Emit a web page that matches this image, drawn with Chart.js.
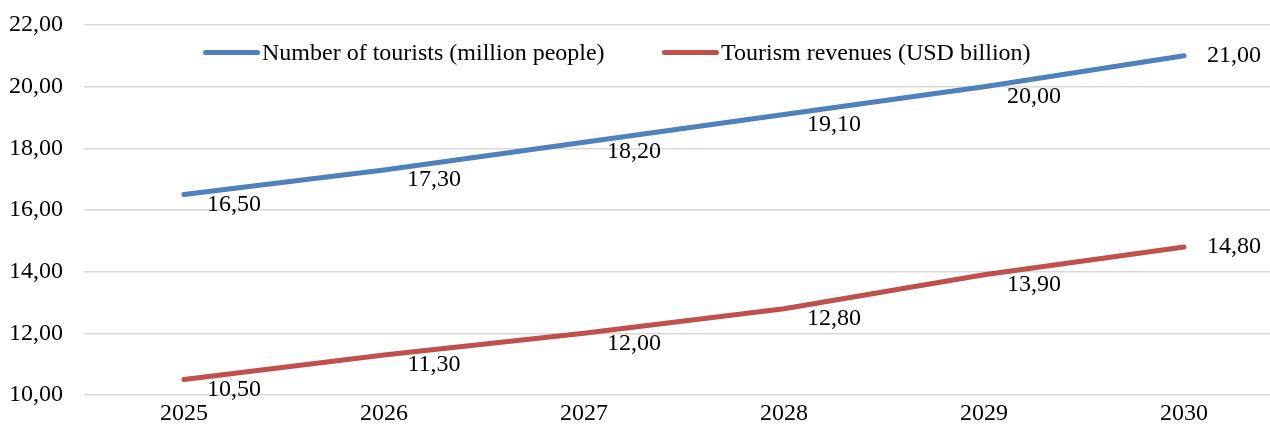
<!DOCTYPE html>
<html>
<head>
<meta charset="utf-8">
<script src="https://cdn.jsdelivr.net/npm/chart.js@4/dist/chart.umd.min.js"></script>
<style>
  html, body { margin: 0; padding: 0; background: #fff; overflow: hidden; }
  #wrap { position: relative; width: 1300px; height: 432px; }
  #leyenda {
    position: absolute; top: 38px; left: 203px;
    font-family: 'Liberation Serif', 'Times New Roman', serif;
    font-size: 24px; color: #000; white-space: nowrap;
  }
  .item { position: absolute; top: 0; display: flex; align-items: center; height: 28px; }
  .marca { display: inline-block; width: 57px; height: 5px; border-radius: 3px; margin-right: 2px; }
</style>
</head>
<body>
<div id="wrap">
  <canvas id="grafico" width="1300" height="432"></canvas>
  <div id="leyenda"></div>
</div>
<script>
// --- datos ---
const anios = ['2025', '2026', '2027', '2028', '2029', '2030'];
const turistas = [16.5, 17.3, 18.2, 19.1, 20.0, 21.0];
const ingresos = [10.5, 11.3, 12.0, 12.8, 13.9, 14.8];
const nombres = ['Number of tourists (million people)', 'Tourism revenues (USD billion)'];
const colores = ['#4f81bd', '#c0504d'];

const fuente = "'Liberation Serif', 'Times New Roman', serif";
const fmt = v => v.toFixed(2).replace('.', ',');

// etiquetas de datos a la derecha / abajo de cada punto
const etiquetas = {
  id: 'etiquetas',
  afterDatasetsDraw(chart) {
    const ctx = chart.ctx;
    ctx.save();
    ctx.font = '24px ' + fuente;
    ctx.fillStyle = '#000';
    ctx.textAlign = 'center';
    ctx.textBaseline = 'middle';
    chart.data.datasets.forEach((ds, i) => {
      const meta = chart.getDatasetMeta(i);
      meta.data.forEach((pt, j) => {
        const ultimo = j === meta.data.length - 1;
        ctx.fillText(fmt(ds.data[j]), pt.x + 50, pt.y + (ultimo ? 0 : 10));
      });
    });
    ctx.restore();
  }
};

new Chart(document.getElementById('grafico'), {
  type: 'line',
  data: {
    labels: anios,
    datasets: [
      { label: nombres[0], data: turistas, borderColor: colores[0] },
      { label: nombres[1], data: ingresos, borderColor: colores[1] }
    ]
  },
  options: {
    responsive: false,
    animation: false,
    layout: { padding: { top: 25, right: 16, left: 0, bottom: 0 } },
    elements: {
      line: { borderWidth: 5, tension: 0, borderCapStyle: 'round', borderJoinStyle: 'round' },
      point: { radius: 0 }
    },
    plugins: {
      legend: { display: false },
      tooltip: { enabled: false }
    },
    scales: {
      x: {
        offset: true,
        grid: { display: false, offset: true },
        border: { display: false },
        ticks: { color: '#000', font: { family: fuente, size: 24 }, padding: -4 },
        afterFit: s => { s.height = 37; s.paddingLeft = 0; s.paddingRight = 0; }
      },
      y: {
        min: 10, max: 22,
        grid: { color: '#d9d9d9', lineWidth: 1.5, drawTicks: false },
        border: { display: false },
        ticks: {
          stepSize: 2, color: '#000', padding: 21,
          font: { family: fuente, size: 24 },
          callback: v => fmt(v)
        },
        afterFit: s => { s.width = 84; s.paddingTop = 0; s.paddingBottom = 0; }
      }
    }
  },
  plugins: [etiquetas]
});

// leyenda
let leyendaHtml = '';
const posiciones = [0, 459];
nombres.forEach((n, i) => {
  leyendaHtml += `<span class="item" style="left:${posiciones[i]}px"><span class="marca" style="background:${colores[i]}"></span>${n}</span>`;
});
document.getElementById('leyenda').innerHTML = leyendaHtml;
</script>
</body>
</html>
